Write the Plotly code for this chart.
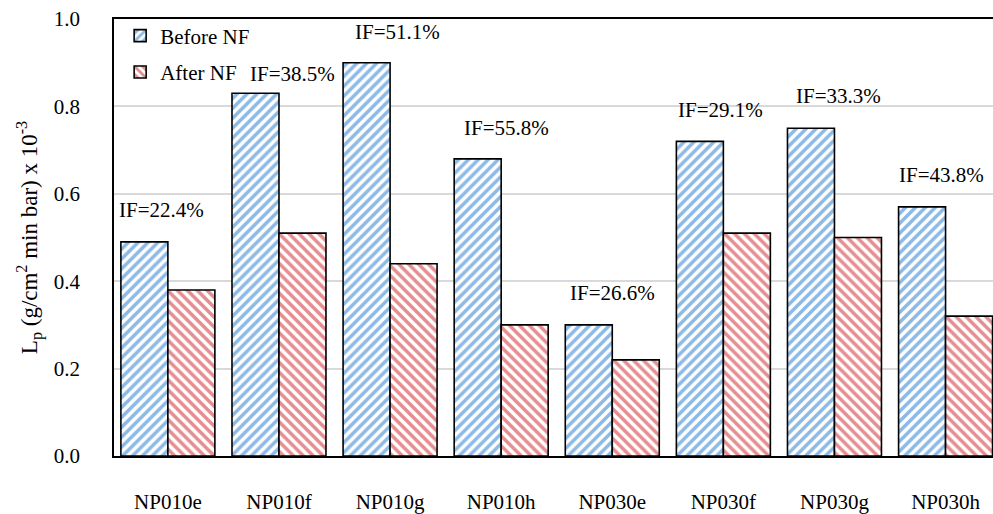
import plotly.graph_objects as go

# Membrane samples and water permeability (Lp, x10^-3 g/cm2 min bar)
samples = ["NP010e", "NP010f", "NP010g", "NP010h", "NP030e", "NP030f", "NP030g", "NP030h"]
before_nf = [0.49, 0.83, 0.90, 0.68, 0.30, 0.72, 0.75, 0.57]
after_nf = [0.38, 0.51, 0.44, 0.30, 0.22, 0.51, 0.50, 0.32]
if_labels = ["IF=22.4%", "IF=38.5%", "IF=51.1%", "IF=55.8%",
             "IF=26.6%", "IF=29.1%", "IF=33.3%", "IF=43.8%"]

# label placement tweaks (pixels) relative to the "Before NF" bar top
label_dx = [-6, 14, 7, 5, 0, -3, 4, -4]
label_dy = [32, 19, 31, 31, 32, 31, 32, 32]

FONT = "Times New Roman, Liberation Serif, DejaVu Serif, serif"
BLUE = "#1a73cc"
RED = "#cc1b22"

fig = go.Figure()
fig.add_trace(go.Bar(
    x=samples, y=before_nf, name="Before NF", legendgroup="b",
    marker=dict(color="white", line=dict(color="black", width=1.6),
                pattern=dict(shape="/", fgcolor=BLUE, bgcolor="white",
                             size=7, solidity=0.5)),
))
fig.add_trace(go.Bar(
    x=samples, y=after_nf, name="After NF", legendgroup="a",
    marker=dict(color="white", line=dict(color="black", width=1.6),
                pattern=dict(shape="\\", fgcolor=RED, bgcolor="white",
                             size=7, solidity=0.5)),
))

for i, (s, v, t) in enumerate(zip(samples, before_nf, if_labels)):
    fig.add_annotation(x=i, y=v, xref="x", yref="y", text=t, showarrow=False,
                       xshift=label_dx[i], yshift=label_dy[i],
                       font=dict(family=FONT, size=21, color="black"))

fig.update_layout(
    width=993, height=514,
    margin=dict(l=114, r=0, t=19, b=55),
    paper_bgcolor="white", plot_bgcolor="white",
    barmode="group", bargap=0.154, bargroupgap=0,
    font=dict(family=FONT, size=21, color="black"),
    showlegend=True,
    legend=dict(x=0.007, y=1.008, xanchor="left", yanchor="top",
                bgcolor="rgba(0,0,0,0)", tracegroupgap=6,
                font=dict(family=FONT, size=21)),
)
fig.update_xaxes(
    type="category", range=[-0.485, 7.427],
    showline=True, linecolor="black", linewidth=1.6, mirror=True,
    ticks="", ticklabelstandoff=26, showgrid=False,
    tickfont=dict(family=FONT, size=21),
)
fig.update_yaxes(
    range=[0, 1.0], dtick=0.2, tickformat=".1f",
    showline=True, linecolor="black", linewidth=1.6,
    showgrid=True, gridcolor="#d9d9d9", gridwidth=1.5, zeroline=False,
    ticks="", ticklabelstandoff=28,
    tickfont=dict(family=FONT, size=21),
    title=dict(text="L<sub>p</sub> (g/cm<sup>2</sup> min bar) x 10<sup>-3</sup>",
               font=dict(family=FONT, size=23), standoff=10),
)

fig.write_html("out.html")
